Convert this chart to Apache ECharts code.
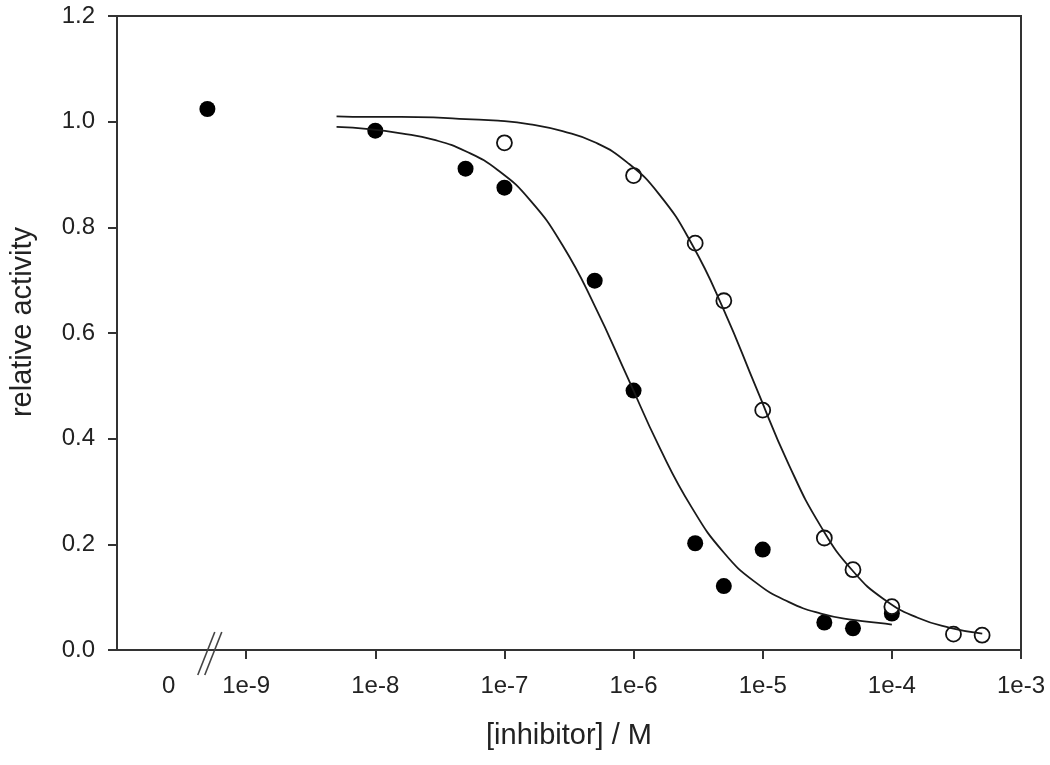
<!DOCTYPE html>
<html>
<head>
<meta charset="utf-8">
<script src="https://cdn.jsdelivr.net/npm/echarts@6/dist/echarts.min.js"></script>
<style>
html,body{margin:0;padding:0;background:#fff;}
#chart{width:1050px;height:765px;}
</style>
</head>
<body>
<div id="chart"></div>
<script>
// ---- data ----
// filled circles: concentration (M) and relative activity
const filledConc = [0, 1e-8, 5e-8, 1e-7, 5e-7, 1e-6, 3e-6, 5e-6, 1e-5, 3e-5, 5e-5, 1e-4];
const filledAct  = [1.024, 0.983, 0.911, 0.875, 0.699, 0.491, 0.202, 0.121, 0.190, 0.052, 0.041, 0.069];
// open circles
const openConc = [1e-7, 1e-6, 3e-6, 5e-6, 1e-5, 3e-5, 5e-5, 1e-4, 3e-4, 5e-4];
const openAct  = [0.960, 0.898, 0.770, 0.661, 0.454, 0.212, 0.152, 0.082, 0.030, 0.028];
// fitted curves (x as log10 of concentration)
const filledCurveLogX = [-8.3,-8.05,-7.8,-7.55,-7.3,-7.05,-6.8,-6.55,-6.3,-6.05,-5.8,-5.55,-5.3,-5.05,-4.8,-4.55,-4.3,-4.05,-4.0];
const filledCurveY    = [0.990,0.986,0.978,0.966,0.944,0.908,0.851,0.766,0.651,0.518,0.384,0.270,0.184,0.127,0.091,0.069,0.057,0.050,0.048];
const openCurveLogX = [-8.3,-8.05,-7.8,-7.55,-7.3,-7.05,-6.8,-6.55,-6.3,-6.05,-5.8,-5.55,-5.3,-5.05,-4.8,-4.55,-4.3,-4.05,-3.8,-3.55,-3.3];
const openCurveY    = [1.010,1.009,1.009,1.008,1.005,1.002,0.995,0.982,0.961,0.923,0.862,0.769,0.643,0.496,0.352,0.234,0.149,0.094,0.061,0.042,0.031];
// x tick labels and their axis positions (log10 scale; "0" sits left of the break)
const xTickLabels = ['0', '1e-9', '1e-8', '1e-7', '1e-6', '1e-5', '1e-4', '1e-3'];
const xTickPos    = [-9.6, -9, -8, -7, -6, -5, -4, -3];
const yTicks = [0, 0.2, 0.4, 0.6, 0.8, 1.0, 1.2];

// axis position used for zero concentration and for the axis break
const ZERO_POS = -9.3;
const BREAK_POS = -9.27;

function toAxis(c){ return c === 0 ? ZERO_POS : Math.log10(c); }

const filledData = filledConc.map((c,i)=>[toAxis(c), filledAct[i]]);
const openData = openConc.map((c,i)=>[toAxis(c), openAct[i]]);
const filledCurve = filledCurveLogX.map((x,i)=>[x, filledCurveY[i]]);
const openCurve = openCurveLogX.map((x,i)=>[x, openCurveY[i]]);

const AX = '#333';
const TXT = '#222';
const FONT = 'Liberation Sans, Arial, sans-serif';

const chart = echarts.init(document.getElementById('chart'), null, {renderer:'canvas'});
chart.setOption({
  animation: false,
  backgroundColor: '#fff',
  grid: {left:116, right:29, top:16, bottom:115, show:true, borderColor:AX, borderWidth:2, backgroundColor:'transparent'},
  xAxis: {
    type:'value', min:-10, max:-3,
    name:'[inhibitor] / M', nameLocation:'middle', nameGap:71,
    nameTextStyle:{fontSize:29, color:TXT, fontFamily:FONT},
    axisLine:{show:true, onZero:false, lineStyle:{color:AX, width:2}},
    axisTick:{show:true, inside:false, length:9, lineStyle:{color:AX, width:2}, customValues: xTickPos.slice(1)},
    axisLabel:{show:true, margin:24, fontSize:24, color:TXT, fontFamily:FONT,
      customValues: xTickPos,
      formatter: function(v){
        for (let i=0;i<xTickPos.length;i++){ if (Math.abs(v-xTickPos[i])<1e-6) return xTickLabels[i]; }
        return '';
      }},
    splitLine:{show:false}
  },
  yAxis: {
    type:'value', min:0, max:1.2, interval:0.2,
    name:'relative activity', nameLocation:'middle', nameGap:80,
    nameTextStyle:{fontSize:29, color:TXT, fontFamily:FONT, padding:[0,0,0,22]},
    axisLine:{show:true, onZero:false, lineStyle:{color:AX, width:2}},
    axisTick:{show:true, inside:false, length:9, lineStyle:{color:AX, width:2}},
    axisLabel:{show:true, margin:22, fontSize:24, color:TXT, fontFamily:FONT,
      formatter: v => v.toFixed(1)},
    splitLine:{show:false}
  },
  series: [
    {
      type:'scatter', name:'filled', data: filledData, symbol:'circle', symbolSize:16,
      itemStyle:{color:'#000', opacity:1}, z:3
    },
    {
      type:'scatter', name:'open', data: openData, symbol:'circle', symbolSize:15,
      itemStyle:{color:'#fff', borderColor:'#111', borderWidth:1.8, opacity:1}, z:4
    },
    {
      type:'line', name:'fit filled', data: filledCurve, smooth:true, showSymbol:false,
      lineStyle:{color:'#1a1a1a', width:1.8}, z:5
    },
    {
      type:'line', name:'fit open', data: openCurve, smooth:true, showSymbol:false,
      lineStyle:{color:'#1a1a1a', width:1.8}, z:5
    },
    {
      type:'custom', name:'break', data:[[BREAK_POS, 0]], clip:false, silent:true, z:6,
      renderItem: function(params, api){
        const p = api.coord([api.value(0), api.value(1)]);
        const mk = (dx) => ({
          type:'line',
          shape:{x1:p[0]+dx-10, y1:p[1]+25, x2:p[0]+dx+7, y2:p[1]-18},
          style:{stroke:'#444', lineWidth:1.6}
        });
        return {type:'group', children:[mk(-3.5), mk(3.5)]};
      }
    }
  ]
});
</script>
</body>
</html>
